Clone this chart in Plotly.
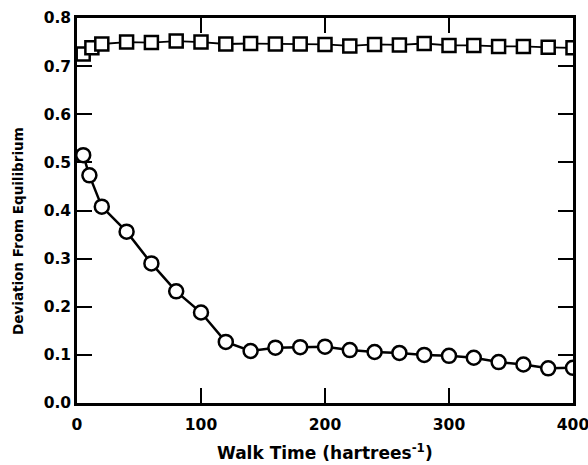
import plotly.graph_objects as go

circle_x = [5, 10, 20, 40, 60, 80, 100, 120, 140, 160, 180, 200, 220, 240, 260, 280, 300, 320, 340, 360, 380, 400]
circle_y = [0.515, 0.473, 0.408, 0.356, 0.29, 0.232, 0.188, 0.127, 0.108, 0.115, 0.116, 0.117, 0.11, 0.106, 0.104, 0.1, 0.098, 0.094, 0.085, 0.08, 0.072, 0.073]

square_x = [5, 12, 20, 40, 60, 80, 100, 120, 140, 160, 180, 200, 220, 240, 260, 280, 300, 320, 340, 360, 380, 400]
square_y = [0.725, 0.738, 0.746, 0.75, 0.749, 0.752, 0.75, 0.746, 0.747, 0.746, 0.746, 0.745, 0.742, 0.745, 0.744, 0.747, 0.743, 0.743, 0.741, 0.741, 0.739, 0.738]

x_ticks = [0, 100, 200, 300, 400]
y_ticks = [0.0, 0.1, 0.2, 0.3, 0.4, 0.5, 0.6, 0.7, 0.8]

x_title = "Walk Time (hartrees<sup>-1</sup>)"
y_title = "Deviation From Equilibrium"

fig = go.Figure()
fig.add_trace(go.Scatter(
    x=square_x, y=square_y, mode="lines+markers",
    line=dict(color="black", width=1.8),
    marker=dict(symbol="square", size=13, color="white", line=dict(color="black", width=2.5)),
    showlegend=False,
))
fig.add_trace(go.Scatter(
    x=circle_x, y=circle_y, mode="lines+markers",
    line=dict(color="black", width=2.5),
    marker=dict(symbol="circle", size=14, color="white", line=dict(color="black", width=2.5)),
    showlegend=False,
))

fam = "DejaVu Sans, Arial, sans-serif"
tick_font = dict(family=fam, size=15.5, color="black", weight="bold")

fig.update_layout(
    width=588, height=465,
    margin=dict(l=77, r=15, t=18, b=62),
    paper_bgcolor="white", plot_bgcolor="white",
    font=tick_font,
    xaxis=dict(
        range=[0, 400], tickvals=x_ticks, ticktext=[str(v) for v in x_ticks],
        ticks="inside", ticklen=15, tickwidth=1.5, tickcolor="black",
        showline=True, linecolor="black", linewidth=2.5, mirror="ticks",
        showgrid=False, zeroline=False, automargin=False,
        tickfont=tick_font, ticklabelstandoff=6, ticklabeloverflow="allow",
    ),
    yaxis=dict(
        range=[0, 0.8], tickvals=y_ticks, ticktext=[f"{v:.1f}" for v in y_ticks],
        ticks="inside", ticklen=15, tickwidth=1.5, tickcolor="black",
        showline=True, linecolor="black", linewidth=2.5, mirror="ticks",
        showgrid=False, zeroline=False, automargin=False,
        tickfont=tick_font, ticklabeloverflow="allow",
    ),
    annotations=[
        dict(text=x_title, xref="paper", yref="paper", x=0.5, y=-0.127,
             xanchor="center", yanchor="middle", showarrow=False,
             font=dict(family=fam, size=17, color="black", weight="bold")),
        dict(text=y_title, xref="paper", yref="paper", x=-0.119, y=0.447,
             xanchor="center", yanchor="middle", showarrow=False, textangle=-90,
             font=dict(family=fam, size=13.5, color="black", weight="bold")),
    ],
)

fig.write_html("out.html")
